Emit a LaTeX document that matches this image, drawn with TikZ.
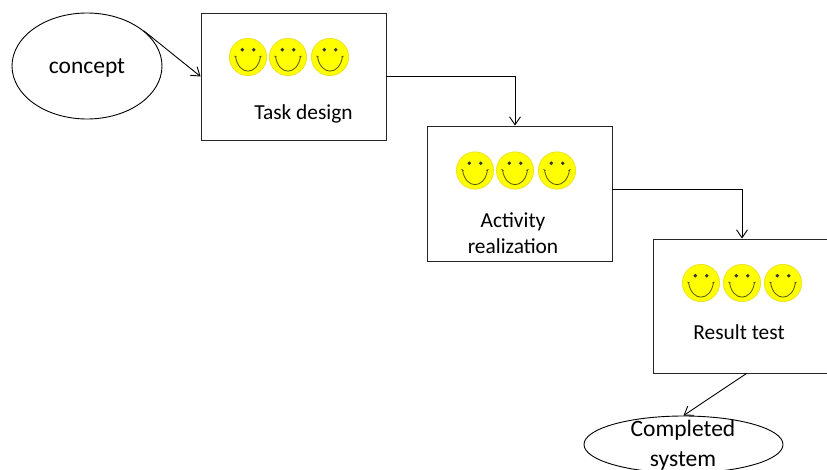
\documentclass[tikz,border=0pt]{standalone}
\usepackage{fontspec}
\setmainfont{Carlito}
\usetikzlibrary{shapes.geometric,arrows.meta}
\definecolor{smileface}{RGB}{255,255,0}
\definecolor{smileedge}{RGB}{238,228,40}
\definecolor{smileline}{RGB}{85,85,20}
\tikzset{
  x=1pt,y=-1pt,
  stagebox/.style={draw=black!85,line width=.9pt,fill=white,rectangle,inner sep=0pt},
  oval/.style={draw=black,line width=.9pt,fill=white,ellipse,inner sep=0pt},
  bigcaption/.style={align=center,inner sep=0pt,font=\fontsize{23.5}{29.5}\selectfont},
  caption/.style={align=center,inner sep=0pt,font=\fontsize{21.4}{26}\selectfont},
  link/.style={draw=black,line width=.9pt,-{Straight Barb[length=8pt,width=11pt,line width=.9pt]}},
  pics/smiley/.style={code={
    \fill[smileface,draw=smileedge,line width=.9pt] (0,0) circle[radius=18.6];
    \fill[black!80] (-5.7,-7.3) circle[radius=1.9] (5.7,-7.3) circle[radius=1.9];
    \draw[smileline,line width=.8pt] (-12.5,-.5) .. controls (-9.5,19) and (9.5,19) .. (12.5,-.5);
    \draw[smileline,line width=.8pt] (-13.6,-1) -- (-11.4,0) (13.6,-1) -- (11.4,0);
  }}
}
\begin{document}
\begin{tikzpicture}
\useasboundingbox (0,0) rectangle (827,469);
\clip (0,0) rectangle (827,469);
\node[oval,minimum width=150pt,minimum height=106pt] (concept) at (87,66) {};
\node[stagebox,minimum width=185pt,minimum height=127pt] (task) at (293.5,76.5) {};
\node[stagebox,minimum width=185pt,minimum height=135pt] (activity) at (519.5,193.5) {};
\node[stagebox,minimum width=187pt,minimum height=134pt] (result) at (746.5,306) {};
\node[oval,minimum width=199pt,minimum height=57pt] (done) at (683.5,444.5) {};
\node[bigcaption] (conceptlabel) at (87,68) {concept};
\node[bigcaption] (donelabel) at (683,445) {Completed\\system};
\foreach \px in {248,288,330} \pic at (\px,57) {smiley};
\foreach \px in {475,515,557} \pic at (\px,170.5) {smiley};
\foreach \px in {701,742,783} \pic at (\px,283) {smiley};
\node[caption] (tasklabel) at (303.5,113.5) {Task design};
\node[caption] (activitylabel) at (513,233) {Activity\\realization};
\node[caption] (resultlabel) at (739,332) {Result test};
\draw[link] (concept.32) -- (task.west);
\draw[link] (task.east) -| ([xshift=-4.5pt]activity.north);
\draw[link] (activity.east) ++(0,-4) -| ([xshift=-4.5pt]result.north);
\draw[link] (result.south) -- (done.north);
\end{tikzpicture}
\end{document}
